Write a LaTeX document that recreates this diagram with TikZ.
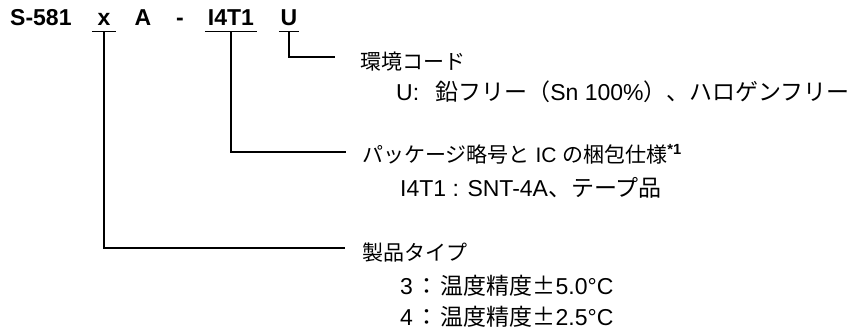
\documentclass[tikz,border=0pt]{standalone}
\usepackage{fontspec}
\setmainfont{Liberation Sans}
\newfontfamily\jpfont{Noto Sans CJK JP}
\usetikzlibrary{positioning}

\newcommand{\jp}[1]{{\jpfont #1}}

\begin{document}
\begin{tikzpicture}[x=1pt, y=1pt,
	code/.style={font=\fontsize{23}{26}\selectfont\bfseries,
		inner xsep=0pt, inner ysep=6pt, text depth=0pt, anchor=base},
	desc/.style={font=\fontsize{21}{25}\selectfont,
		inner sep=0pt, text height=17pt, text depth=4pt, anchor=west},
	subdesc/.style={desc, font=\fontsize{23}{27}\selectfont,
		text height=18pt, text depth=5pt},
	wire/.style={line width=1.4pt}]
		
		\useasboundingbox (0,0) rectangle (862,-335);
		
		% Product code
		\node [code, anchor=base west] (prefix) at (10,-25) {S-581};
		\node [code, minimum width=24pt] (xc) at (104,-25) {x};
		\node [code] (ac) at (143,-25) {A};
		\node [code] (dash) at (180,-25) {-};
		\node [code, minimum width=52pt] (pkgc) at (231,-25) {I4T1};
		\node [code, minimum width=20pt] (uc) at (289,-25) {U};
		
		% Environment code
		\node [desc] (envttl) at (360,-63) {\jp{環境コード}};
		\node [subdesc,
		below right= 9pt and 36pt of envttl.south west
		] (envitem) {U:\hspace{0.7em}\jp{鉛フリー（}Sn 100\%\jp{）、ハロゲンフリー}};
		
		% Package
		\node [desc] (pkgttl) at (362,-156) {\jp{パッケージ略号と} IC \jp{の梱包仕様}\textsuperscript{\bfseries *1}};
		\node [subdesc,
		below right= 12pt and 38pt of pkgttl.south west
		] (pkgitem) {I4T1 : SNT-4A\jp{、テープ品}};
		
		% Product type
		\node [desc] (typettl) at (362,-254) {\jp{製品タイプ}};
		\node [subdesc,
		below right= 12pt and 38pt of typettl.south west
		] (type3) {3\hspace{0.1em}\jp{：}\hspace{0.1em}\jp{温度精度±}5.0°C};
		\node [subdesc,
		below right= 7pt and 0pt of type3.south west
		] (type4) {4\hspace{0.1em}\jp{：}\hspace{0.1em}\jp{温度精度±}2.5°C};
		
		\draw[wire] (uc.south west) -- (uc.south east);
		\draw[wire] (uc.south) |- ([xshift=-25pt, yshift=6pt]envttl.west);
		
		\draw[wire] (pkgc.south west) -- (pkgc.south east);
		\draw[wire] (pkgc.south) |- ([xshift=-16pt, yshift=4pt]pkgttl.west);
		
		\draw[wire] (xc.south west) -- (xc.south east);
		\draw[wire] (xc.south) |- ([xshift=-17pt, yshift=6pt]typettl.west);
		
\end{tikzpicture}
\end{document}
